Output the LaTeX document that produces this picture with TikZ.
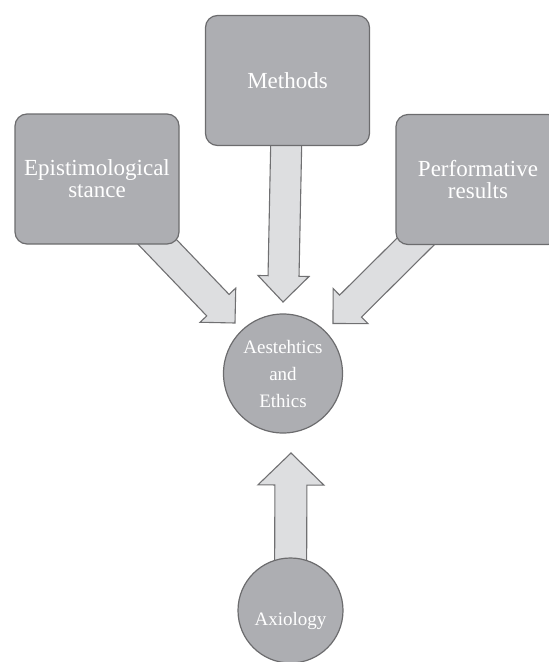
\documentclass[tikz,border=0pt]{standalone}
\usepackage{fontspec}
\setmainfont{Liberation Serif}
\usetikzlibrary{calc,backgrounds}
\definecolor{boxfill}{RGB}{173,174,178}
\definecolor{boxdraw}{RGB}{108,108,110}
\definecolor{arrfill}{RGB}{221,222,224}
\definecolor{arrdraw}{RGB}{112,112,114}
\tikzset{
  box/.style={draw=boxdraw, fill=boxfill, line width=1.2pt, rounded corners=12pt,
    minimum width=164pt, minimum height=130pt, align=center, text=white,
    font=\fontsize{23}{22}\selectfont, inner sep=0pt},
  circ/.style={circle, draw=boxdraw, fill=boxfill, line width=1.2pt, inner sep=0pt,
    align=center, text=white},
  blockarr/.style={draw=arrdraw, fill=arrfill, line width=1.1pt, line join=miter}
}
\newcommand\blockarrow[5]{%
  \coordinate (ba-h) at ($(#2)!#5!(#1)$);
  \draw[blockarr] ($(#1)!#3!90:(#2)$) -- ($(ba-h)!#3!-90:(#1)$) -- ($(ba-h)!#4!-90:(#1)$)
    -- (#2) -- ($(ba-h)!#4!90:(#1)$) -- ($(ba-h)!#3!90:(#1)$) -- ($(#1)!#3!-90:(#2)$) -- cycle;}
\begin{document}
\begin{tikzpicture}[x=1pt,y=-1pt]
\useasboundingbox (0,0) rectangle (549,662);
\node[box] (epi) at (97,179) {Epistimological\\stance};
\node[box] (meth) at (287.5,80.5) {Methods};
\node[box] (perf) at (478,179.5) {Performative\\results};
\node[circ, minimum size=119pt, font=\fontsize{19}{27}\selectfont] (aes) at (283,373.5) {Aestehtics\\and\\Ethics};
\node[circ, minimum size=105pt, font=\fontsize{19}{22}\selectfont] (axi) at (290.5,610.5) {\smash{\raisebox{-14.5pt}{Axiology}}};
\begin{scope}[on background layer]
\coordinate (tM) at ($(aes.center)+(0,-71.5)$);
\coordinate (tE) at ($(aes.center)+(-48,-50.5)$);
\coordinate (tP) at ($(aes.center)+(50,-50)$);
\coordinate (tA) at ($(aes.center)+(8,79.5)$);
\blockarrow{meth.center}{tM}{15.5pt}{25.5pt}{26pt}
\blockarrow{epi.center}{tE}{15.5pt}{24.7pt}{24.7pt}
\blockarrow{perf.center}{tP}{15.5pt}{24.7pt}{24.7pt}
\blockarrow{axi.center}{tA}{16pt}{33pt}{32pt}
\end{scope}
\end{tikzpicture}
\end{document}
